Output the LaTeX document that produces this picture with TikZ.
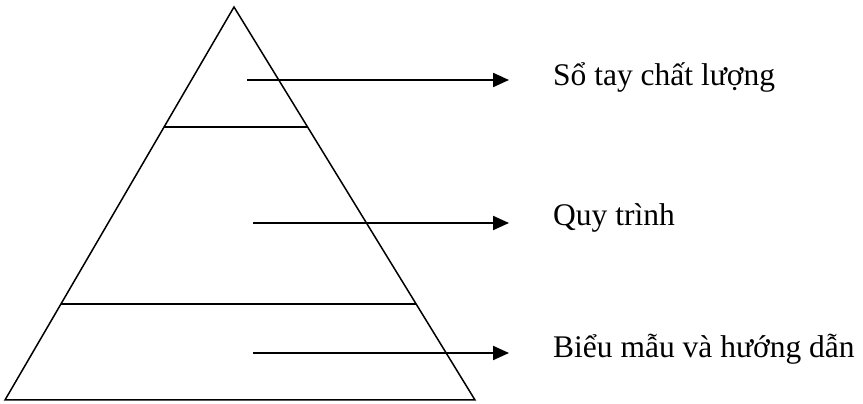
\documentclass[tikz,border=0pt]{standalone}
\usepackage{fontspec}
\setmainfont{Liberation Serif}
\usetikzlibrary{arrows.meta,calc}
\begin{document}
\begin{tikzpicture}[x=1pt,y=1pt,
  edge/.style={line width=1.5pt},
  pointer/.style={line width=2.2pt,-{Triangle[length=16pt,width=14pt]}},
  label/.style={anchor=base west,inner sep=0pt,font=\fontsize{31.5}{38}\selectfont}]
\useasboundingbox (0,0) rectangle (863,404);
\coordinate (apex) at (234,397);
\coordinate (bl) at (5,4);
\coordinate (br) at (475,4);
\draw[edge,line join=miter] (apex) -- (bl) -- (br) -- cycle;
\coordinate (l1a) at ($(apex)!0.3053!(bl)$);
\coordinate (l1b) at ($(apex)!0.3053!(br)$);
\coordinate (l2a) at ($(apex)!0.7557!(bl)$);
\coordinate (l2b) at ($(apex)!0.7557!(br)$);
\draw[edge] (l1a) -- (l1b);
\draw[edge] (l2a) -- (l2b);
\node[label] (t1) at (553,318) {Sổ tay chất lượng};
\node[label] (t2) at (553,178) {Quy trình};
\node[label] (t3) at (553,46) {Biểu mẫu và hướng dẫn};
\coordinate (s1) at (247,324);
\coordinate (e1) at (509,324);
\coordinate (s2) at (253,181);
\coordinate (e2) at (509,181);
\coordinate (s3) at (253,51);
\coordinate (e3) at (509,51);
\draw[pointer] (s1) -- (e1);
\draw[pointer] (s2) -- (e2);
\draw[pointer] (s3) -- (e3);
\end{tikzpicture}
\end{document}
